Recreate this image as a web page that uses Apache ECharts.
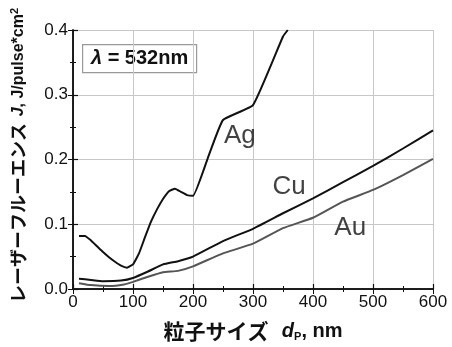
<!DOCTYPE html>
<html><head><meta charset="utf-8">
<script src="https://cdn.jsdelivr.net/npm/echarts@6/dist/echarts.min.js"></script>
<style>html,body{margin:0;padding:0;background:#fff}#c{width:452px;height:347px}</style>
</head><body><div id="c"></div>
<script>
const xTicks = [0, 100, 200, 300, 400, 500, 600];
const yTicks = [0.0, 0.1, 0.2, 0.3, 0.4];
const agData = [[10,0.082],[20,0.082],[30,0.075],[40,0.066],[50,0.057],[60,0.049],[70,0.042],[80,0.036],[90,0.033],[100,0.038],[110,0.055],[120,0.080],[130,0.104],[140,0.123],[150,0.139],[160,0.151],[170,0.155],[180,0.150],[190,0.145],[200,0.144],[225,0.203],[250,0.261],[300,0.284],[350,0.390],[358,0.400]];
const cuData = [[10,0.016],[30,0.014],[50,0.012],[80,0.013],[100,0.017],[125,0.027],[150,0.038],[175,0.043],[200,0.050],[250,0.074],[300,0.093],[350,0.117],[400,0.140],[450,0.165],[500,0.190],[550,0.217],[600,0.245]];
const auData = [[10,0.009],[30,0.006],[60,0.0045],[85,0.007],[100,0.011],[125,0.019],[150,0.026],[175,0.028],[200,0.035],[250,0.055],[300,0.070],[350,0.094],[400,0.110],[450,0.135],[500,0.153],[550,0.176],[600,0.201]];
const seriesNames = ['Ag', 'Cu', 'Au'];
const labelPos = [[278, 0.236], [360, 0.158], [462, 0.095]];

const F = '"Liberation Sans", Arial, sans-serif';
const J = '"Noto Sans CJK JP", sans-serif';
const chart = echarts.init(document.getElementById('c'), null, {renderer: 'canvas'});
const mkLine = (name, data, color) => ({
  name, type: 'line', data, showSymbol: false, symbol: 'none', smooth: 0.12,
  lineStyle: {color: color, width: 2}, clip: true, z: 3
});
chart.setOption({
  animation: false,
  grid: {left: 73, top: 30, right: 19, bottom: 53},
  xAxis: [{
    type: 'value', min: 0, max: 600, interval: 100,
    axisLine: {lineStyle: {color: '#111', width: 1.5}},
    axisTick: {inside: true, length: 5, lineStyle: {color: '#111', width: 1.2}},
    minorTick: {show: true, splitNumber: 2, length: 3, lineStyle: {color: '#111'}},
    axisLabel: {color: '#111', fontSize: 17, fontFamily: F, margin: 5},
    splitLine: {show: true, lineStyle: {color: '#c8c8c8', width: 1}},
    name: '{a|粒子サイズ}    {i|d}{s|P}{b|, nm}', nameLocation: 'middle', nameGap: 32,
    nameTextStyle: {rich: {
      a: {fontFamily: J, fontWeight: 'bold', fontSize: 21, color: '#111'},
      i: {fontFamily: F, fontWeight: 'bold', fontStyle: 'italic', fontSize: 20, color: '#111'},
      s: {fontFamily: F, fontWeight: 'bold', fontSize: 11, color: '#111', verticalAlign: 'bottom', padding: [6,0,0,0]},
      b: {fontFamily: F, fontWeight: 'bold', fontSize: 20, color: '#111'}
    }}
  }, {
    type: 'value', min: 0, max: 600, interval: 100, position: 'top',
    axisLine: {show: true, lineStyle: {color: '#111', width: 1.5}},
    axisTick: {inside: true, length: 5, lineStyle: {color: '#111'}},
    minorTick: {show: true, splitNumber: 2, length: 3, lineStyle: {color: '#111'}},
    axisLabel: {show: false}, splitLine: {show: false}
  }],
  yAxis: [{
    type: 'value', min: 0, max: 0.4, interval: 0.1,
    axisLine: {show: true, lineStyle: {color: '#111', width: 1.5}},
    axisTick: {show: true, inside: true, length: 5, lineStyle: {color: '#111', width: 1.2}},
    minorTick: {show: true, splitNumber: 2, length: 3, lineStyle: {color: '#111'}},
    axisLabel: {color: '#111', fontSize: 17, fontFamily: F, margin: 5, formatter: v => v.toFixed(1)},
    splitLine: {show: true, lineStyle: {color: '#c8c8c8', width: 1}},
    name: '{a|レーザーフルーエンス}  {i|J}{b|, J/pulse*cm}{s|2}', nameLocation: 'middle', nameGap: 45, nameRotate: 90,
    nameTextStyle: {padding: [0, 0, 0, 8], rich: {
      a: {fontFamily: J, fontWeight: 'bold', fontSize: 18, color: '#111'},
      i: {fontFamily: F, fontWeight: 'bold', fontStyle: 'italic', fontSize: 16, color: '#111'},
      b: {fontFamily: F, fontWeight: 'bold', fontSize: 16, color: '#111'},
      s: {fontFamily: F, fontWeight: 'bold', fontSize: 11, color: '#111', verticalAlign: 'top', padding: [0,0,8,0]}
    }}
  }, {
    type: 'value', min: 0, max: 0.4, interval: 0.1, position: 'right',
    axisLine: {show: true, lineStyle: {color: '#111', width: 1.5}},
    axisTick: {show: true, inside: true, length: 5, lineStyle: {color: '#111'}},
    minorTick: {show: true, splitNumber: 2, length: 3, lineStyle: {color: '#111'}},
    axisLabel: {show: false}, splitLine: {show: false}
  }],
  series: [
    mkLine('Ag', agData, '#111'),
    mkLine('Cu', cuData, '#111'),
    mkLine('Au', auData, '#555'),
    {
      type: 'scatter', symbolSize: 0, silent: true, z: 4,
      data: labelPos.map((p, i) => ({value: p, name: seriesNames[i]})),
      label: {show: true, position: 'inside', formatter: p => p.name, color: '#111', fontSize: 26, fontFamily: F}
    }
  ],
  graphic: [{
    type: 'group', left: 82, top: 44,
    children: [
      {type: 'rect', shape: {x: 0, y: 0, width: 114, height: 28}, style: {fill: '#fff', stroke: '#999', lineWidth: 1.2}},
      {type: 'text', x: 57, y: 14, style: {
        text: '{i|λ}{b| = 532nm}', align: 'center', verticalAlign: 'middle',
        rich: {
          i: {fontFamily: F, fontWeight: 'bold', fontStyle: 'italic', fontSize: 20, fill: '#111'},
          b: {fontFamily: F, fontWeight: 'bold', fontSize: 20, fill: '#111'}
        }
      }}
    ]
  }]
});
</script></body></html>
